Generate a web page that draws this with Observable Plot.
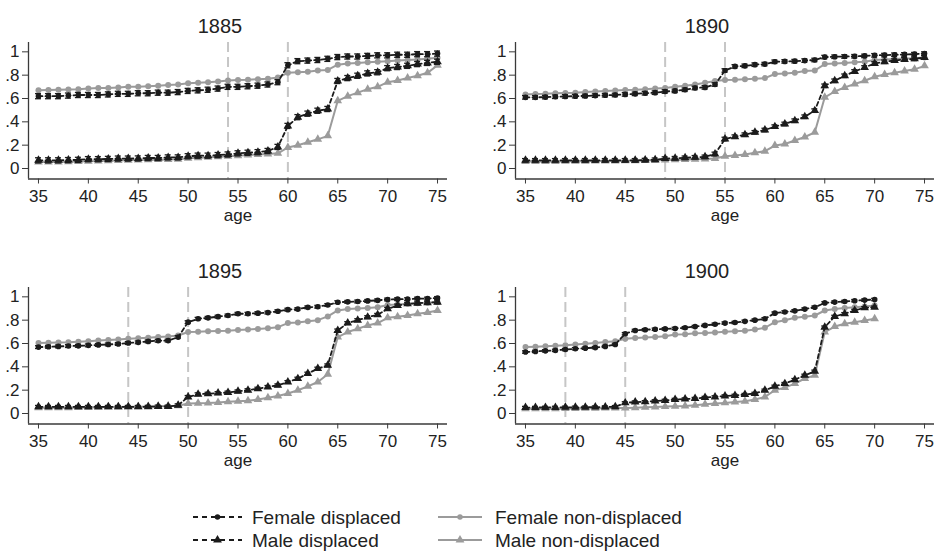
<!DOCTYPE html>
<html><head><meta charset="utf-8">
<script src="https://cdn.jsdelivr.net/npm/d3@7"></script>
<script src="https://cdn.jsdelivr.net/npm/@observablehq/plot@0.6"></script>
<style>
body{margin:0;background:#fff;}
#wrap{position:relative;width:936px;height:557px;font-family:"Liberation Sans",Arial,Helvetica,sans-serif;background:#fff;overflow:hidden;}
.cell{position:absolute;width:468px;height:245px;}
.cell svg{max-width:none !important;}
</style></head><body><div id="wrap"></div>
<script>
// ---- data ----
const years = ["1885", "1890", "1895", "1900"];
const ages = [35,36,37,38,39,40,41,42,43,44,45,46,47,48,49,50,51,52,53,54,55,56,57,58,59,60,61,62,63,64,65,66,67,68,69,70,71,72,73,74,75];
const xTicks = [35,40,45,50,55,60,65,70,75];
const yTicks = [0,0.2,0.4,0.6,0.8,1];
const cutoff1885 = [54,60];
const cutoff1890 = [49,55];
const cutoff1895 = [44,50];
const cutoff1900 = [39,45];
// approximate half-width of confidence bands (displaced series)
const errFD = [0.022, 0.015, 0.012, 0.010];
const errMD = [0.022, 0.015, 0.012, 0.010];

// 1885
const fd1885 = [.62,.62,.62,.625,.63,.63,.63,.635,.64,.64, .645,.645,.65,.65,.655,.665,.67,.675,.685,.70, .70,.705,.71,.72,.74,.885,.92,.925,.93,.94, .955,.96,.96,.965,.97,.97,.975,.975,.98,.98,.985];
const fn1885 = [.67,.672,.675,.678,.68,.685,.69,.69,.695,.70, .70,.705,.71,.715,.72,.73,.735,.74,.745,.755, .758,.76,.765,.77,.78,.82,.825,.83,.84,.845, .89,.90,.905,.91,.915,.92,.925,.93,.935,.94,.95];
const md1885 = [.07,.07,.07,.072,.074,.08,.08,.082,.085,.085, .086,.09,.09,.095,.095,.105,.11,.11,.115,.12, .13,.135,.14,.15,.185,.365,.44,.47,.495,.51, .75,.775,.795,.815,.825,.86,.87,.88,.895,.905,.915];
const mn1885 = [.055,.055,.055,.058,.06,.062,.064,.066,.068,.07, .072,.074,.076,.078,.08,.088,.092,.096,.10,.105, .11,.115,.12,.125,.13,.18,.20,.225,.25,.28, .58,.62,.65,.68,.70,.74,.755,.775,.795,.82,.885];
// 1890
const fd1890 = [.61,.61,.612,.615,.618,.62,.622,.625,.628,.63, .635,.64,.645,.65,.66,.665,.675,.69,.695,.72, .84,.875,.88,.89,.895,.915,.918,.92,.925,.93, .955,.958,.96,.962,.965,.97,.972,.975,.978,.98,.985];
const fn1890 = [.635,.638,.64,.645,.648,.65,.655,.66,.665,.668, .672,.675,.68,.685,.69,.70,.71,.72,.735,.75, .758,.76,.765,.77,.775,.81,.815,.82,.835,.84, .895,.90,.905,.91,.915,.93,.935,.938,.942,.945,.951];
const md1890 = [.07,.07,.07,.07,.07,.07,.07,.07,.07,.07, .07,.07,.072,.075,.085,.088,.092,.096,.10,.125, .253,.273,.29,.31,.33,.359,.382,.41,.444,.496, .709,.752,.795,.832,.866,.90,.915,.925,.935,.94,.951];
const mn1890 = [.06,.06,.06,.06,.062,.062,.062,.064,.064,.065, .066,.067,.068,.07,.072,.075,.078,.08,.082,.085, .105,.112,.12,.135,.148,.197,.21,.24,.27,.31, .61,.66,.695,.724,.752,.786,.805,.82,.835,.85,.88];
// 1895
const fd1895 = [.569,.572,.575,.578,.58,.584,.588,.592,.596,.604, .61,.618,.624,.625,.655,.783,.812,.82,.83,.84, .855,.855,.86,.865,.877,.89,.895,.91,.915,.93, .954,.957,.96,.965,.97,.977,.98,.98,.985,.985,.99];
const fn1895 = [.604,.606,.608,.61,.615,.62,.625,.63,.635,.641, .645,.65,.655,.66,.669,.698,.70,.705,.708,.71, .715,.72,.725,.73,.74,.775,.78,.79,.80,.832, .883,.895,.90,.905,.91,.93,.935,.94,.945,.95,.954];
const md1895 = [.057,.057,.057,.057,.057,.057,.057,.057,.057,.057, .057,.058,.06,.06,.071,.142,.165,.17,.175,.18, .19,.20,.213,.228,.242,.27,.299,.342,.385,.413, .712,.775,.80,.826,.846,.897,.926,.94,.945,.95,.954];
const mn1895 = [.05,.05,.05,.05,.052,.052,.054,.055,.056,.057, .058,.06,.062,.064,.066,.085,.088,.09,.094,.10, .105,.11,.12,.135,.15,.171,.199,.233,.27,.336, .655,.698,.726,.755,.775,.82,.83,.84,.855,.865,.883];
// 1900 (ages 35-70)
const fd1900 = [.527,.532,.537,.541,.548,.555,.56,.565,.575,.592, .684,.712,.718,.722,.725,.729,.735,.745,.755,.765, .775,.78,.79,.80,.812,.86,.87,.88,.895,.911, .948,.955,.96,.967,.972,.977];
const fn1900 = [.569,.572,.576,.58,.585,.592,.598,.605,.612,.62, .641,.648,.652,.656,.662,.678,.68,.687,.689,.695, .70,.705,.71,.72,.735,.783,.80,.82,.83,.84, .883,.895,.905,.91,.918,.926];
const md1900 = [.051,.051,.052,.052,.053,.053,.054,.055,.056,.058, .091,.098,.10,.108,.112,.12,.124,.128,.137,.142, .15,.155,.162,.172,.199,.233,.256,.29,.327,.362, .74,.832,.855,.883,.906,.911];
const mn1900 = [.04,.04,.04,.041,.042,.043,.044,.045,.046,.047, .048,.05,.053,.056,.059,.062,.065,.071,.08,.085, .091,.098,.105,.12,.142,.199,.222,.256,.30,.327, .698,.745,.769,.783,.797,.812];

const seriesFD = [fd1885, fd1890, fd1895, fd1900];
const seriesFN = [fn1885, fn1890, fn1895, fn1900];
const seriesMD = [md1885, md1890, md1895, md1900];
const seriesMN = [mn1885, mn1890, mn1895, mn1900];
const cutoffs = [cutoff1885, cutoff1890, cutoff1895, cutoff1900];

const legendLabels = ["Female displaced", "Male displaced", "Female non-displaced", "Male non-displaced"];

// ---- drawing ----
const FONT = '"Liberation Sans", Arial, Helvetica, sans-serif';
const black = "#1b1b1b", gray = "#9b9b9b", axisC = "#3a3a3a", textC = "#222";
const fmt = d => d === 0 ? "0" : d === 1 ? "1" : String(d).replace(/^0/, "");

function panel(i) {
  const toRows = arr => arr.map((v, j) => ({age: ages[j], v}));
  const fd = toRows(seriesFD[i]), fn = toRows(seriesFN[i]);
  const md = toRows(seriesMD[i]), mn = toRows(seriesMN[i]);
  const errRows = [...fd.map(d => ({...d, e: errFD[i]})), ...md.map(d => ({...d, e: errMD[i]}))];
  return Plot.plot({
    width: 468, height: 245,
    marginLeft: 28, marginRight: 21, marginTop: 42, marginBottom: 66.5,
    x: {domain: [34, 76]},
    y: {domain: [-0.09, 1.08]},
    style: {fontFamily: FONT, fontSize: "17px", color: textC, background: "transparent", overflow: "visible", maxWidth: "none"},
    marks: [
      Plot.ruleX(cutoffs[i], {stroke: "#c6c6c6", strokeWidth: 2, strokeDasharray: "10,5"}),
      Plot.line(fn, {x: "age", y: "v", stroke: gray, strokeWidth: 2}),
      Plot.dot(fn, {x: "age", y: "v", fill: gray, r: 3, symbol: "circle"}),
      Plot.line(mn, {x: "age", y: "v", stroke: gray, strokeWidth: 2}),
      Plot.dot(mn, {x: "age", y: "v", fill: gray, r: 3.2, symbol: "triangle"}),
      Plot.line(fd, {x: "age", y: "v", stroke: black, strokeWidth: 1.8, strokeDasharray: "4,3"}),
      Plot.line(md, {x: "age", y: "v", stroke: black, strokeWidth: 1.8, strokeDasharray: "4,3"}),
      Plot.ruleX(errRows, {x: "age", y1: d => d.v - d.e, y2: d => d.v + d.e, stroke: black, strokeWidth: 1.3}),
      Plot.ruleY(errRows, {y: d => d.v - d.e, x1: d => d.age - 0.3, x2: d => d.age + 0.3, stroke: black, strokeWidth: 1.3}),
      Plot.ruleY(errRows, {y: d => d.v + d.e, x1: d => d.age - 0.3, x2: d => d.age + 0.3, stroke: black, strokeWidth: 1.3}),
      Plot.dot(fd, {x: "age", y: "v", fill: black, r: 2.8, symbol: "circle"}),
      Plot.dot(md, {x: "age", y: "v", fill: black, r: 3.2, symbol: "triangle"}),
      Plot.ruleX([34], {stroke: axisC, strokeWidth: 1.3}),
      Plot.ruleY([-0.09], {stroke: axisC, strokeWidth: 1.3}),
      Plot.axisY(yTicks, {anchor: "left", tickSize: 6, tickPadding: 3, tickFormat: fmt, fontSize: 17, stroke: axisC, fill: textC, label: null}),
      Plot.axisX(xTicks, {anchor: "bottom", tickSize: 5, tickPadding: 6, fontSize: 17, stroke: axisC, fill: textC, label: null}),
      Plot.text([years[i]], {frameAnchor: "top", lineAnchor: "middle", dx: -18, dy: -16.4, fontSize: 20, fill: textC}),
      Plot.text(["age"], {frameAnchor: "bottom", lineAnchor: "middle", dy: 36.5, fontSize: 17, fill: textC})
    ]
  });
}

const wrap = document.getElementById("wrap");
years.forEach((y, i) => {
  const div = document.createElement("div");
  div.className = "cell";
  div.style.left = (i % 2 ? 487 : 0) + "px";
  div.style.top = (i < 2 ? 0 : 245) + "px";
  div.appendChild(panel(i));
  wrap.appendChild(div);
});

// legend
const lg = d3.create("svg").attr("width", 936).attr("height", 67)
  .style("position", "absolute").style("left", "0px").style("top", "490px")
  .style("font-family", FONT);
const items = [
  {label: legendLabels[0], col: 0, row: 0, dashed: true, color: black, sym: d3.symbolCircle, size: 24},
  {label: legendLabels[1], col: 0, row: 1, dashed: true, color: black, sym: d3.symbolTriangle, size: 34},
  {label: legendLabels[2], col: 1, row: 0, dashed: false, color: gray, sym: d3.symbolCircle, size: 24},
  {label: legendLabels[3], col: 1, row: 1, dashed: false, color: gray, sym: d3.symbolTriangle, size: 34}
];
const colX = [{x1: 193, x2: 242, tx: 252}, {x1: 438, x2: 482, tx: 495}];
const rowY = [27, 50];
items.forEach(it => {
  const c = colX[it.col], y = rowY[it.row];
  lg.append("line").attr("x1", c.x1).attr("x2", c.x2).attr("y1", y).attr("y2", y)
    .attr("stroke", it.color).attr("stroke-width", 2)
    .attr("stroke-dasharray", it.dashed ? "5,4" : null);
  lg.append("path").attr("d", d3.symbol(it.sym, it.size)())
    .attr("transform", `translate(${(c.x1 + c.x2) / 2},${y})`).attr("fill", it.color);
  lg.append("text").attr("x", c.tx).attr("y", y).attr("dy", "0.35em")
    .attr("font-size", 19).attr("fill", textC).text(it.label);
});
wrap.appendChild(lg.node());
</script>
</body></html>
